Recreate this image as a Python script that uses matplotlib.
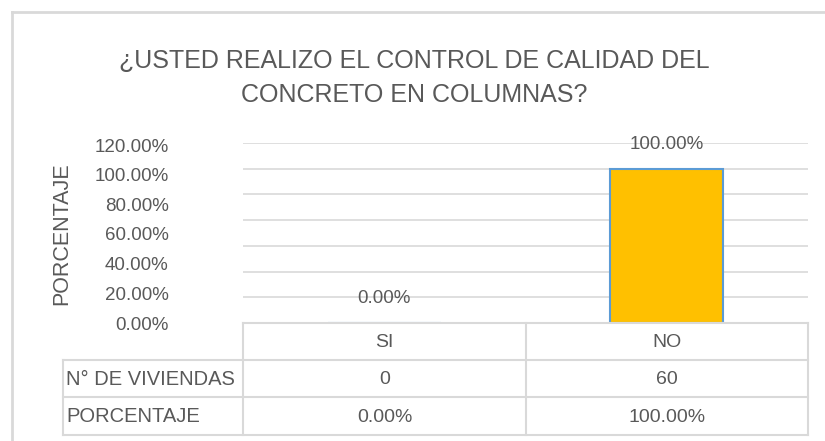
import matplotlib
matplotlib.use('Agg')
from matplotlib import pyplot as plt
from matplotlib.lines import Line2D

# data
categories = ['SI', 'NO']
porcentaje = [0.0, 1.0]
n_viviendas = [0, 60]
row_labels = ['N° DE VIVIENDAS', 'PORCENTAJE']
y_ticks = [0.0, 0.2, 0.4, 0.6, 0.8, 1.0, 1.2]
title = '¿USTED REALIZO EL CONTROL DE CALIDAD DEL\nCONCRETO EN COLUMNAS?'

TXT = '#595959'
LINE = '#D9D9D9'
W, H = 825, 441

plt.rcParams['font.family'] = ['Liberation Sans', 'DejaVu Sans']

fig = plt.figure(figsize=(W / 100, H / 100), dpi=100)


def fx(px):
    return px / W


def fy(py):
    return 1 - py / H


# plot area in pixels
left, right, top, bottom = 243, 808, 143, 323
ax = fig.add_axes([fx(left), fy(bottom), fx(right - left), (bottom - top) / H])

x = range(len(categories))
bars = ax.bar(x, porcentaje, width=0.4, color='#FFC000', edgecolor='#5B9BD5',
              linewidth=1.5, zorder=3)
ax.set_xlim(-0.5, len(categories) - 0.5)
ax.set_ylim(0, 7 / 6)
ax.set_yticks([k / 6 for k in range(1, 8)])
ax.set_yticklabels([])
ax.grid(True, axis='y', color=LINE, linewidth=1.2, zorder=0)
for s in ax.spines.values():
    s.set_visible(False)

for i, v in enumerate(porcentaje):
    ax.annotate(f'{v * 100:.2f}%', (i, v), xytext=(0, 17.5), textcoords='offset points',
                ha='center', va='center', fontsize=13.5, color=TXT, zorder=4)

# value axis labels
ax2 = ax.twinx()
ax2.yaxis.tick_left()
ax2.set_ylim(0, 1.2 * 180 / 178)
ax2.set_yticks(y_ticks)
ax2.set_yticklabels([f'{t * 100:.2f}%' for t in y_ticks])
ax2.tick_params(left=False, right=False, labelsize=13.5, labelcolor=TXT, pad=50)
for s in ax2.spines.values():
    s.set_visible(False)
ax.tick_params(left=False, right=False, bottom=False, labelbottom=False, labelleft=False)

fig.text(fx(62), fy(234), 'PORCENTAJE', rotation=90, ha='center', va='center',
         fontsize=15.5, color=TXT)

fig.text(fx(414), fy(78), title, ha='center', va='center', fontsize=18,
         color=TXT, linespacing=1.5)

# data table
col_edges = [63, 243, 526, 808]
row_edges = [323, 360, 397, 435]


def hline(y, x0, x1):
    fig.add_artist(Line2D([fx(x0), fx(x1)], [fy(y), fy(y)], color=LINE, lw=1.5))


def vline(xp, y0, y1):
    fig.add_artist(Line2D([fx(xp), fx(xp)], [fy(y0), fy(y1)], color=LINE, lw=1.5))


hline(row_edges[0], col_edges[1], col_edges[3])
for y in row_edges[1:]:
    hline(y, col_edges[0], col_edges[3])
vline(col_edges[0], row_edges[1], row_edges[3])
for xp in col_edges[1:]:
    vline(xp, row_edges[0], row_edges[3])

rows = [categories,
        [str(n) for n in n_viviendas],
        [f'{p * 100:.2f}%' for p in porcentaje]]
for r, vals in enumerate(rows):
    yc = (row_edges[r] + row_edges[r + 1]) / 2 + 1
    if r > 0:
        fig.text(fx(col_edges[0] + 3), fy(yc), row_labels[r - 1], ha='left', va='center',
                 fontsize=14.5, color=TXT)
    for c, val in enumerate(vals):
        xc = (col_edges[c + 1] + col_edges[c + 2]) / 2
        fig.text(fx(xc), fy(yc), val, ha='center', va='center', fontsize=14, color=TXT)

# chart frame
fig.add_artist(Line2D([fx(12), 1], [fy(12), fy(12)], color=LINE, lw=2))
fig.add_artist(Line2D([fx(12), fx(12)], [fy(12), 0], color=LINE, lw=2))

fig.savefig('out.png', dpi=100, facecolor='white')
